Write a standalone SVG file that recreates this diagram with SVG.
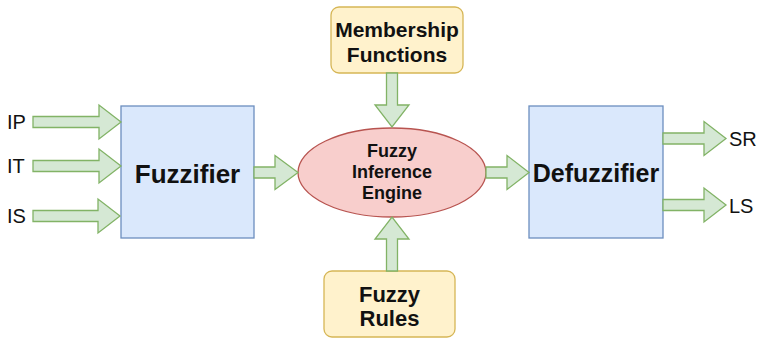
<svg xmlns="http://www.w3.org/2000/svg" width="766" height="340" viewBox="0 0 766 340">
  <style>
    .blue { fill: #dae8fc; stroke: #6c8ebf; stroke-width: 1.3; }
    .yellow { fill: #fff2cc; stroke: #d6b656; stroke-width: 1.3; }
    .red { fill: #f8cecc; stroke: #b85450; stroke-width: 1.3; }
    .arrow { fill: #d5e8d4; stroke: #82b366; stroke-width: 1.3; stroke-linejoin: miter; }
    text { font-family: "Liberation Sans", Arial, sans-serif; fill: #111; }
    .b { font-weight: bold; text-anchor: middle; }
    .lbl { font-size: 20px; }
  </style>

  <!-- input / output labels -->
  <g id="labels">
    <text class="lbl" x="7" y="129">IP</text>
    <text class="lbl" x="7" y="173">IT</text>
    <text class="lbl" x="7" y="223">IS</text>
    <text class="lbl" x="729" y="146">SR</text>
    <text class="lbl" x="729" y="213">LS</text>
  </g>

  <g id="fuzzifier">
    <rect class="blue" x="121" y="106" width="133" height="132"/>
    <text class="b" x="187.5" y="183" font-size="26">Fuzzifier</text>
  </g>

  <g id="membership">
    <rect class="yellow" x="331" y="7" width="132" height="66" rx="8"/>
    <text class="b" x="397" y="37" font-size="21">Membership</text>
    <text class="b" x="397" y="62" font-size="21">Functions</text>
  </g>

  <g id="engine">
    <ellipse class="red" cx="392" cy="172.5" rx="94" ry="44.5"/>
    <text class="b" x="392" y="157" font-size="18">Fuzzy</text>
    <text class="b" x="392" y="178" font-size="18">Inference</text>
    <text class="b" x="392" y="199" font-size="18">Engine</text>
  </g>

  <g id="rules">
    <rect class="yellow" x="324" y="271" width="131" height="66" rx="8"/>
    <text class="b" x="389.5" y="302" font-size="22">Fuzzy</text>
    <text class="b" x="389.5" y="326" font-size="22">Rules</text>
  </g>

  <g id="defuzzifier">
    <rect class="blue" x="529" y="106" width="134" height="132"/>
    <text class="b" x="596" y="182" font-size="25">Defuzzifier</text>
  </g>

  <!-- block arrows: shaft 11 wide, head 34 wide and 22 long -->
  <g id="connectors">
    <polygon class="arrow" points="33,116.5 99,116.5 99,105 121,122 99,139 99,127.5 33,127.5"/>
    <polygon class="arrow" points="33,160.5 99,160.5 99,149 121,166 99,183 99,171.5 33,171.5"/>
    <polygon class="arrow" points="33,210.5 98,210.5 98,199 120,216 98,233 98,221.5 33,221.5"/>
    <polygon class="arrow" points="254,167 275,167 275,155.5 298,172.5 275,189.5 275,178 254,178"/>
    <polygon class="arrow" points="486,167 507,167 507,155.5 529,172.5 507,189.5 507,178 486,178"/>
    <polygon class="arrow" points="663,133 704,133 704,121.5 726,138.5 704,155.5 704,144 663,144"/>
    <polygon class="arrow" points="663,199.5 704,199.5 704,188 726,205 704,222 704,210.5 663,210.5"/>
    <polygon class="arrow" points="386.5,73 386.5,105 375,105 392,127 409,105 397.5,105 397.5,73"/>
    <polygon class="arrow" points="386.5,271 386.5,239 375,239 392,217 409,239 397.5,239 397.5,271"/>
  </g>
</svg>
